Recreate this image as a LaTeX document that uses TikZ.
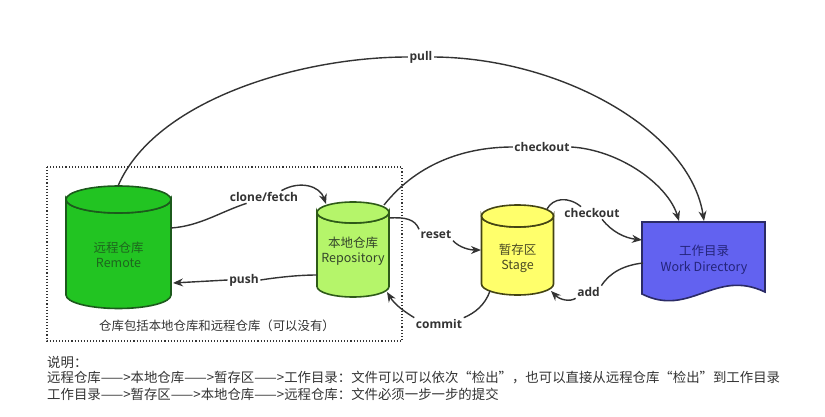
\documentclass[tikz,border=0pt]{standalone}
\usepackage{fontspec}
\newfontfamily\cjk{Noto Sans CJK SC}
\newfontfamily\labfont{Open Sans}
\usetikzlibrary{arrows.meta}
\definecolor{linec}{HTML}{333333}
\definecolor{remfill}{HTML}{22C422}
\definecolor{remdraw}{HTML}{1C5A1C}
\definecolor{remtext}{HTML}{1E661E}
\definecolor{repofill}{HTML}{B5F56A}
\definecolor{repodraw}{HTML}{2E5A18}
\definecolor{repotext}{HTML}{33442A}
\definecolor{stagefill}{HTML}{FFFF6B}
\definecolor{stagedraw}{HTML}{444414}
\definecolor{stagetext}{HTML}{4A4A24}
\definecolor{workfill}{HTML}{6262F0}
\definecolor{workdraw}{HTML}{2B2B66}
\definecolor{worktext}{HTML}{24247A}
\definecolor{notec}{HTML}{333333}
\newcommand\drawcyl[7]{%
  \filldraw[fill=#6,draw=#7,line width=1.6pt] (#1-#2,#3) -- (#1-#2,#4)
    arc[start angle=180,end angle=0,x radius=#2,y radius=#5] -- (#1+#2,#3)
    arc[start angle=0,end angle=180,x radius=#2,y radius=#5] -- cycle;
  \filldraw[fill=#6,draw=#7,line width=1.6pt] (#1,#3) ellipse[x radius=#2,y radius=#5];
}
\begin{document}
\begin{tikzpicture}[x=1pt,y=-1pt,
  conn/.style={draw=linec,line width=1.4pt},
  arr/.style={conn,-{Stealth[length=10pt,width=8pt]}},
  lab/.style={font=\labfont\bfseries\fontsize{12}{14}\selectfont,text=linec,inner sep=1.5pt},
  cyltext/.style={font=\cjk\fontsize{12.5}{15.5}\selectfont,align=center,inner sep=0pt},
  note/.style={font=\cjk\fontsize{13.4}{15}\selectfont,text=notec,anchor=west,inner sep=0pt}]
\useasboundingbox[fill=white] (0,0) rectangle (825,417);

% dotted group box
\draw[dotted,line width=1.1pt,draw=linec] (47,167) rectangle (402,341);
\node[font=\cjk\fontsize{12.4}{14}\selectfont,text=notec] (boxlab) at (217,326) {仓库包括本地仓库和远程仓库（可以没有）};

% shapes
\drawcyl{118.5}{52.5}{199.5}{295}{13.5}{remfill}{remdraw}
\drawcyl{353}{36}{212.5}{286.5}{10.5}{repofill}{repodraw}
\drawcyl{517.5}{36}{216}{284}{11}{stagefill}{stagedraw}
\filldraw[fill=workfill,draw=workdraw,line width=1.6pt] (642,222) -- (765,222) -- (765,292)
  .. controls (715,268) and (690,318) .. (642,294) -- cycle;

\node[cyltext,text=remtext] (remote) at (118.5,255) {远程仓库\\Remote};
\node[cyltext,text=repotext] (repo) at (353,251) {本地仓库\\Repository};
\node[cyltext,text=stagetext] (stage) at (517.5,258.5) {暂存区\\Stage};
\node[cyltext,text=worktext] (work) at (704,259.5) {工作目录\\Work Directory};

% labels
\node[lab] (pull) at (421,57) {pull};
\node[lab] (co1) at (542,147) {checkout};
\node[lab] (clone) at (264,197) {clone/fetch};
\node[lab] (push) at (244,280) {push};
\node[lab] (reset) at (436,235) {reset};
\node[lab] (co2) at (592,213) {checkout};
\node[lab] (add) at (588.5,292) {add};
\node[lab] (commit) at (439,324) {commit};

% connector endpoints
\coordinate (remtop) at (118,186);
\coordinate (remright) at (171,228);
\coordinate (remright2) at (173,283);
\coordinate (repotop) at (384,205);
\coordinate (repotopl) at (326,204);
\coordinate (repoleft) at (317,275);
\coordinate (reporight) at (389,218);
\coordinate (repobr) at (387,292);
\coordinate (stageleft) at (481,250);
\coordinate (stagetr) at (547,209);
\coordinate (stagebl) at (490,291);
\coordinate (stagebr) at (551,291);
\coordinate (worktop1) at (679,221);
\coordinate (worktop2) at (704,221);
\coordinate (workleft1) at (642,240);
\coordinate (workleft2) at (643,263);

% connectors
\draw[conn] (remtop) .. controls (155,100) and (300,57) .. (pull.west);
\draw[arr] (pull.east) .. controls (560,58) and (690,130) .. (worktop2);
\draw[conn] (repotop) .. controls (420,160) and (470,147) .. (co1.west);
\draw[arr] (co1.east) .. controls (620,150) and (668,185) .. (worktop1);
\draw[conn] (remright) .. controls (200,226) and (220,212) .. (clone.200);
\draw[arr] (clone.20) .. controls (300,180) and (320,186) .. (repotopl);
\draw[conn] (repoleft) .. controls (300,275) and (280,277) .. (push.east);
\draw[arr] (push.west) -- (remright2);
\draw[conn] (reporight) .. controls (405,217) and (415,219) .. (reset.north west);
\draw[arr] (reset.south east) .. controls (460,248) and (470,250) .. (stageleft);
\draw[conn] (stagetr) .. controls (553,198) and (568,196) .. (co2.150);
\draw[arr] (co2.-32) .. controls (612,232) and (625,238) .. (workleft1);
\draw[conn] (workleft2) .. controls (625,265) and (610,272) .. (add.north east);
\draw[arr] (add.south west) .. controls (570,302) and (560,300) .. (stagebr);
\draw[conn] (stagebl) .. controls (485,305) and (475,313) .. (commit.north east);
\draw[arr] (commit.north west) .. controls (405,312) and (395,305) .. (repobr);

% notes
\node[note] (n1) at (47,362) {说明：};
\node[note] (n2) at (47,378) {远程仓库——>本地仓库——>暂存区——>工作目录：文件可以可以依次“检出”，也可以直接从远程仓库“检出”到工作目录};
\node[note] (n3) at (47,394) {工作目录——>暂存区——>本地仓库——>远程仓库：文件必须一步一步的提交};
\end{tikzpicture}
\end{document}
